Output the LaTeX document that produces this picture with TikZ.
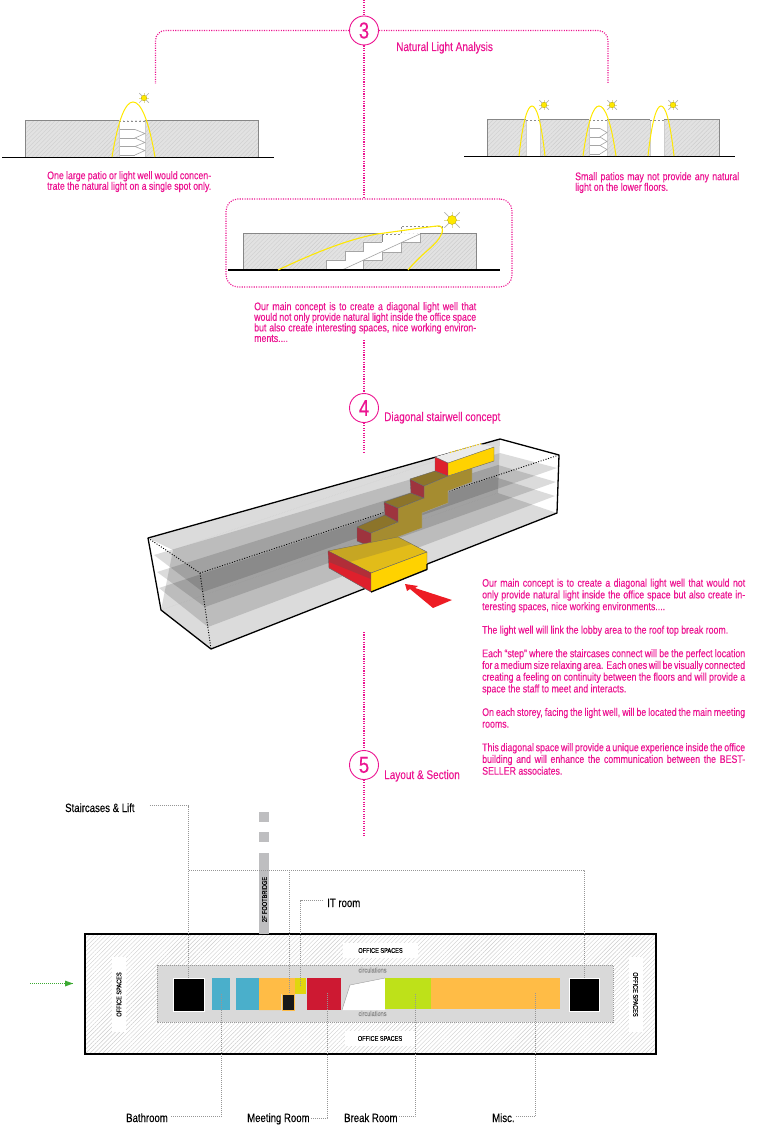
\documentclass[tikz,border=0pt]{standalone}
\usepackage{fontspec}
\setmainfont[FakeStretch=0.8,FakeBold=0.25]{Liberation Sans}
\usetikzlibrary{patterns.meta}
\definecolor{ref-magenta}{RGB}{236,20,145}
\definecolor{ref-yellow}{RGB}{255,232,0}
\definecolor{ref-mass}{RGB}{226,226,226}
\definecolor{ref-hatch}{RGB}{205,205,205}
\definecolor{ref-edge}{RGB}{135,135,135}
\definecolor{ref-stair}{RGB}{165,165,165}
\definecolor{ref-gold}{RGB}{255,210,0}
\definecolor{ref-goldtop}{RGB}{226,188,25}
\definecolor{ref-goldside}{RGB}{165,140,48}
\definecolor{ref-goldstep}{RGB}{140,116,42}
\definecolor{ref-red}{RGB}{222,32,44}
\definecolor{ref-maroon}{RGB}{158,52,62}
\definecolor{ref-arrow}{RGB}{237,28,36}
\definecolor{ref-core}{RGB}{217,217,217}
\definecolor{ref-blue}{RGB}{74,175,203}
\definecolor{ref-orange}{RGB}{255,188,70}
\definecolor{ref-lemon}{RGB}{224,214,14}
\definecolor{ref-crimson}{RGB}{205,25,50}
\definecolor{ref-lime}{RGB}{190,225,25}
\definecolor{ref-bridge}{RGB}{190,190,192}
\definecolor{ref-leader}{RGB}{150,150,150}
\definecolor{ref-green}{RGB}{60,170,50}
\tikzset{
  stepcircle/.style={circle,draw=ref-magenta,fill=white,line width=.9pt,minimum size=29pt,inner sep=0pt,text=ref-magenta,font=\fontsize{23}{23}\selectfont},
  magline/.style={ref-magenta,line width=1.1pt,dash pattern=on 1.1pt off 1.3pt},
  steptitle/.style={anchor=base west,inner sep=0pt,text=ref-magenta,font=\fontsize{12.5}{13}\selectfont},
  note/.style={anchor=north west,inner sep=0pt,text=ref-magenta,align=justify,font=\fontsize{11}{10.6}\selectfont},
  massblock/.style={fill=ref-mass,postaction={pattern={Lines[angle=45,distance=3pt,line width=.4pt]},pattern color=ref-hatch}},
  sectline/.style={ref-edge,line width=1pt},
  ground/.style={black,line width=1.1pt},
  lightcurve/.style={ref-yellow,line width=1pt},
  lightwall/.style={ref-hatch,line width=.7pt},
  stairline/.style={ref-stair,line width=.6pt},
  roofdash/.style={black!45,line width=.8pt,dash pattern=on 2pt off 2pt},
  plate/.style={fill=black,fill opacity=.14},
  boxedge/.style={black,line width=1.3pt,line join=round},
  boxdots/.style={black,line width=.9pt,dash pattern=on 1pt off 1.6pt},
  blockedge/.style={draw=black!60,line width=.4pt,line join=round},
  planhatch/.style={fill=white,postaction={pattern={Lines[angle=45,distance=3pt,line width=.4pt]},pattern color=ref-hatch}},
  room/.style={minimum width=#1,inner sep=0pt,outer sep=0pt,minimum height=32pt},
  officetag/.style={fill=white,inner sep=0pt,text=black,font=\fontsize{7}{7}\selectfont},
  circtag/.style={inner sep=0pt,text=black!45,font=\fontsize{7}{7}\selectfont},
  leader/.style={ref-leader,line width=.8pt,dash pattern=on 1pt off 1pt},
  roomlabel/.style={anchor=base west,inner sep=0pt,text=black,font=\fontsize{12}{12}\selectfont}
}
\newcommand{\lightarch}[5]{\draw[lightcurve] (#1,#5) .. controls ({#1+(#2-#1)*.3},{#4+(#5-#4)*.3}) and ({#2-(#2-#1)*.35},#4) .. (#2,#4) .. controls ({#2+(#3-#2)*.35},#4) and ({#3-(#3-#2)*.3},{#4+(#5-#4)*.3}) .. (#3,#5);}
\newcommand{\sunmark}[3]{
  \foreach \a in {45,135,225,315} \draw[black!30,line width=.7pt] (#1,#2) -- ++(\a:#3*2.4);
  \foreach \a in {0,90,180,270} \draw[ref-yellow!70!black!40,line width=.5pt] (#1,#2) -- ++(\a:#3*1.7);
  \fill[ref-yellow,draw=ref-yellow!70!black,line width=.3pt] (#1,#2) circle (#3);
}
\newcommand{\stairzig}[4]{
  \foreach \s in {0,8.5,17,25.5} \draw[stairline] (#1,#4+\s) -- (#2,#4+\s);
  \draw[stairline] (#2,#4) -- (#3,#4+4) -- (#2,#4+8.5) -- (#3,#4+13) -- (#2,#4+17) -- (#3,#4+21) -- (#2,#4+25.5);
}
\begin{document}
\begin{tikzpicture}[x=1pt,y=-1pt]
\useasboundingbox (0,0) rectangle (757,1139);
%Step 3:
\node[stepcircle] (three) at (364,30.5) {3};
\node[steptitle] (threetitle) at (396,51) {Natural Light Analysis};
\coordinate (threetop) at (364,0);
\coordinate (bracketl) at (155.5,84);
\coordinate (bracketr) at (608,84);
\node[draw=ref-magenta,magline,rounded corners=12pt,minimum width=286pt,minimum height=88pt,inner sep=0pt] (conceptbox) at (369,243) {};
\draw[magline] (threetop) -- (three);
\draw[magline,rounded corners=10pt] (three) -| (bracketl);
\draw[magline,rounded corners=10pt] (three) -| (bracketr);
\draw[magline] (three) -- (three |- conceptbox.north);
%Section left:
\fill[massblock] (25,121) rectangle (258,157);
\fill[white] (119,121) rectangle (145,157);
\draw[sectline] (25,157) |- (119,121);
\draw[sectline] (145,121) -| (258,157);
\draw[lightwall] (119,121) -- (119,157) (145,121) -- (145,157);
\draw[roofdash] (119,121) -- (145,121);
\stairzig{120}{135}{145}{129.5}
\draw[ground] (2,157.5) -- (274,157.5);
\lightarch{112}{133}{155}{102}{157}
\sunmark{144}{98}{2.8}
\node[note,text width=164pt] (lefttext) at (47,171) {\parfillskip=0pt One large patio or light well would concen-\linebreak trate the natural light on a single spot only.};
%Section right:
\fill[massblock] (487,120) rectangle (719,156);
\foreach \a/\b in {526/540,589/607,650/664} \fill[white] (\a,120) rectangle (\b,156);
\draw[sectline] (487,156) |- (719,120) -- (719,156);
\foreach \a/\b in {526/540,589/607,650/664} {
  \draw[lightwall] (\a,120) -- (\a,156) (\b,120) -- (\b,156);
  \fill[white] (\a,119) rectangle (\b,121);
  \draw[roofdash] (\a,120) -- (\b,120);
}
\stairzig{590}{600}{607}{128.5}
\draw[ground] (464,156.5) -- (735,156.5);
\lightarch{519}{532}{545}{106}{156}
\lightarch{583}{599}{616}{106}{156}
\lightarch{648}{661}{674}{106}{156}
\sunmark{544}{105}{2.8}
\sunmark{612}{105}{2.8}
\sunmark{673}{105}{2.8}
\node[note,text width=164pt] (righttext) at (575,172) {Small patios may not provide any natural\linebreak light on the lower floors.};
%Section middle:
\fill[massblock] (243,234) rectangle (476,270);
\fill[white] (326,270) -- (326,260) -- (345,260) -- (345,251) -- (363,251) -- (363,242) -- (382,242) -- (382,234) -- (420,234) -- (420,242) -- (401,242) -- (401,252) -- (382,252) -- (382,260) -- (363,260) -- (363,270) -- cycle;
\draw[sectline] (243,270) |- (382,234) -- (382,242);
\draw[sectline] (420,234) -| (476,270);
\draw[stairline] (326,270) -- (326,260) -- (345,260) -- (345,251) -- (363,251) -- (363,242) -- (382,242);
\draw[stairline] (420,234) -- (420,242) -- (401,242) -- (401,252) -- (382,252) -- (382,260) -- (363,260) -- (363,270);
\draw[stairline] (342,270) -- (420,234);
\draw[roofdash] (382,234) -- (401,234) -- (401,226) -- (442,226) -- (442,234);
\draw[ground] (228,270) -- (500,270);
\draw[lightcurve,line width=1.1pt] (278,270) .. controls (310,255) and (345,240) .. (377,234) .. controls (400,231) and (420,228) .. (437,226) .. controls (444,225) and (443,232) .. (441,235) .. controls (436,246) and (425,250) .. (408,270);
\sunmark{452}{220}{4.5}
\node[note,text width=222pt] (concepttext) at (254,302) {Our main concept is to create a diagonal light well that\linebreak would not only provide natural light inside the office space\linebreak but also create interesting spaces, nice working environ-\linebreak ments....};
%Step 4:
\node[stepcircle] (four) at (364,408) {4};
\node[steptitle] (fourtitle) at (384,421) {Diagonal stairwell concept};
\coordinate (fourtop) at (364,340);
\coordinate (fourend) at (364,452);
\draw[magline] (fourtop) -- (four);
\draw[magline] (four) -- (fourend);
%Glass box:
\fill[plate] (173,550) -- (500,439) -- (498,493) -- (161,610) -- cycle;
\fill[plate] (148,538) -- (500,439) -- (173,550) -- cycle;
\fill[plate] (154,555) -- (203,592) -- (557,468) -- (500,453) -- cycle;
\fill[plate] (157,572) -- (205,607) -- (556,482) -- (498,465) -- cycle;
\fill[plate] (159,588) -- (208,627) -- (555,496) -- (495,477) -- cycle;
\fill[plate] (161,610) -- (211,649) -- (557,513) -- (498,493) -- cycle;
\draw[boxdots] (148,538) -- (200,573) -- (559,455);
\draw[boxdots] (200,573) -- (211,649);
\draw[boxedge] (148,538) -- (500,439) -- (559,455) -- (557,513) -- (211,649) -- (161,610) -- cycle;
%Stair well:
\fill[ref-goldside,draw=black!35,line width=.3pt] (371,533) -- (398,522) -- (398,508) -- (424,498) -- (424,486) -- (448,476) -- (472,468) -- (472,482) -- (448,491) -- (448,503) -- (422,513) -- (422,528) -- (398,537) -- (371,547) -- cycle;
\filldraw[fill=ref-maroon,blockedge] (357,527) -- (371,533) -- (371,547) -- (357,541) -- cycle;
\filldraw[fill=ref-goldstep,blockedge] (357,527) -- (371,533) -- (398,522) -- (385,515) -- cycle;
\filldraw[fill=ref-maroon,blockedge] (384,502) -- (398,508) -- (398,522) -- (385,515) -- cycle;
\filldraw[fill=ref-goldstep,blockedge] (384,502) -- (398,508) -- (424,498) -- (411,493) -- cycle;
\filldraw[fill=ref-maroon,blockedge] (410,479) -- (424,486) -- (424,498) -- (411,493) -- cycle;
\filldraw[fill=ref-goldstep,blockedge] (410,479) -- (424,486) -- (448,476) -- (435,471) -- cycle;
%Top block:
\fill[white!92!black] (435,457) -- (480,444) -- (494,447) -- (448,463) -- cycle;
\filldraw[fill=ref-red,blockedge] (435,457) -- (448,463) -- (448,476) -- (435,471) -- cycle;
\filldraw[fill=ref-gold,blockedge] (448,463) -- (494,447) -- (494,461) -- (448,476) -- cycle;
\draw[ref-gold,line width=1.2pt,dash pattern=on 1pt off 1.6pt] (450,452.5) -- (482,443.5);
%Lobby block:
\filldraw[fill=ref-goldtop,blockedge] (328,551) -- (371,573) -- (427,552) -- (398,537) -- cycle;
\fill[ref-goldside,opacity=.45] (328,551) -- (350,562) -- (412,544) -- (398,537) -- cycle;
\filldraw[fill=ref-red,blockedge] (328,551) -- (371,573) -- (371,592) -- (329,568) -- cycle;
\fill[ref-maroon,opacity=.7] (328,551) -- (371,573) -- (371,579) -- (329,562) -- cycle;
\filldraw[fill=ref-gold,blockedge] (371,573) -- (427,552) -- (427,569) -- (371,592) -- cycle;
\draw[boxedge] (371,592) -- (427,569.5) -- (427,564);
\fill[ref-arrow] (405,584) -- (418,586) -- (415,588) -- (452,600) -- (433,608) -- (410,589) -- (407,591) -- cycle;
\node[note,text width=263pt,font=\fontsize{11}{11.75}\selectfont] (mainnote) at (482,578.5) {
Our main concept is to create a diagonal light well that would not\linebreak only provide natural light inside the office space but also create in-\linebreak teresting spaces, nice working environments....\par\vskip 11.75pt
The light well will link the lobby area to the roof top break room.\par\vskip 11.75pt
Each ``step'' where the staircases connect will be the perfect location\linebreak for a medium size relaxing area. Each ones will be visually connected\linebreak creating a feeling on continuity between the floors and will provide a\linebreak space the staff to meet and interacts.\par\vskip 11.75pt
On each storey, facing the light well, will be located the main meeting\linebreak rooms.\par\vskip 11.75pt
This diagonal space will provide a unique experience inside the office\linebreak building and will enhance the communication between the BEST-\linebreak SELLER associates.};
%Step 5:
\node[stepcircle] (five) at (364,765) {5};
\node[steptitle] (fivetitle) at (384,779) {Layout \& Section};
\coordinate (fivetop) at (364,632);
\coordinate (fiveend) at (364,837);
\draw[magline] (fivetop) -- (five);
\draw[magline] (five) -- (fiveend);
%Plan:
\fill[ref-bridge] (259,812) rectangle (269,822);
\fill[ref-bridge] (259,832) rectangle (269,842);
\fill[ref-bridge] (259,853) rectangle (269,936);
\node[rotate=90,inner sep=0pt,text=black,font=\fontsize{7}{7}\selectfont] (bridgetag) at (264.5,899.5) {2F FOOTBRIDGE};
\draw[planhatch] (85,934) rectangle (656,1054);
\draw[black,line width=1.2pt] (85,934) rectangle (656,1054);
\fill[ref-bridge] (259,930) rectangle (269,934);
\node[officetag,minimum width=75pt,minimum height=15pt] (officetop) at (380.5,950.5) {OFFICE SPACES};
\node[officetag,minimum width=70pt,minimum height=15pt] (officebot) at (380,1038.5) {OFFICE SPACES};
\node[officetag,rotate=90,minimum width=75pt,minimum height=14pt] (officeleft) at (119,994.5) {OFFICE SPACES};
\node[officetag,rotate=-90,minimum width=75pt,minimum height=14pt] (officeright) at (635.5,994.5) {OFFICE SPACES};
\filldraw[fill=ref-core,draw=black!40,line width=.5pt,dash pattern=on 1pt off 1pt] (157,965) rectangle (613,1022);
\node[circtag] (circtop) at (372.5,970) {circulations};
\node[circtag] (circbot) at (372.5,1013.5) {circulations};
\node[room=31pt,fill=black,draw=white,line width=.6pt,minimum height=33pt] (stairl) at (188.5,994.5) {};
\node[room=18pt,fill=ref-blue] (bluea) at (221,994) {};
\node[room=23pt,fill=ref-blue] (blueb) at (247.5,994) {};
\fill[ref-orange] (259,978) -- (295,978) -- (295,994) -- (281,994) -- (281,1010) -- (259,1010) -- cycle;
\node[room=11pt,fill=ref-lemon,minimum height=16pt] (itroom) at (300.5,986) {};
\node[room=12pt,fill=black!90,draw=ref-orange,line width=.4pt,minimum height=16pt] (smallcore) at (288,1002) {};
\node[room=34pt,fill=ref-crimson] (redroom) at (324,994) {};
\fill[white] (342,1010) -- (350,985) -- (385,978) -- (385,1010) -- cycle;
\draw[black!40,line width=.4pt] (342,1010) -- (350,985) -- (385,978);
\node[room=46pt,fill=ref-lime,minimum height=31pt] (limeroom) at (408,993.5) {};
\node[room=129pt,fill=ref-orange,minimum height=31pt] (miscroom) at (495.5,993.5) {};
\node[room=30pt,fill=black,draw=white,line width=.6pt,minimum height=33pt] (stairr) at (584,994.5) {};
%Leaders:
\node[roomlabel] (stairlabel) at (65,812) {Staircases \& Lift};
\node[roomlabel] (itlabel) at (327,907) {IT room};
\node[roomlabel] (bathlabel) at (126,1122) {Bathroom};
\node[roomlabel] (meetlabel) at (247,1122) {Meeting Room};
\node[roomlabel] (breaklabel) at (344,1122) {Break Room};
\node[roomlabel] (misclabel) at (492,1122) {Misc.};
\coordinate (leadjoin) at (189,870);
\coordinate (smallend) at (289,993);
\coordinate (meetend) at (327,993);
\coordinate (breakend) at (415,993);
\coordinate (miscend) at (535,993);
\draw[leader] (stairlabel.east) ++(15,-2) -| (stairl.north);
\draw[leader] (leadjoin) -| (stairr.north);
\draw[leader] (leadjoin -| smallend) -- (smallend);
\draw[leader] (itlabel.west) ++(-4,-3) -| (itroom.center);
\draw[leader] (bathlabel.east) ++(3,-1) -| (bluea.center);
\draw[leader] (meetlabel.east) ++(1,-1) -| (meetend);
\draw[leader] (breaklabel.east) ++(1,-1) -| (breakend);
\draw[leader] (misclabel.east) ++(1,-1) -| (miscend);
\coordinate (entrystart) at (30,983.5);
\coordinate (entryend) at (73,983.5);
\draw[ref-green,line width=.8pt,dash pattern=on 1pt off 1pt] (entrystart) -- (entryend);
\fill[ref-green] (73,983.5) -- (65,980.5) -- (65,986.5) -- cycle;
\end{tikzpicture}
\end{document}
